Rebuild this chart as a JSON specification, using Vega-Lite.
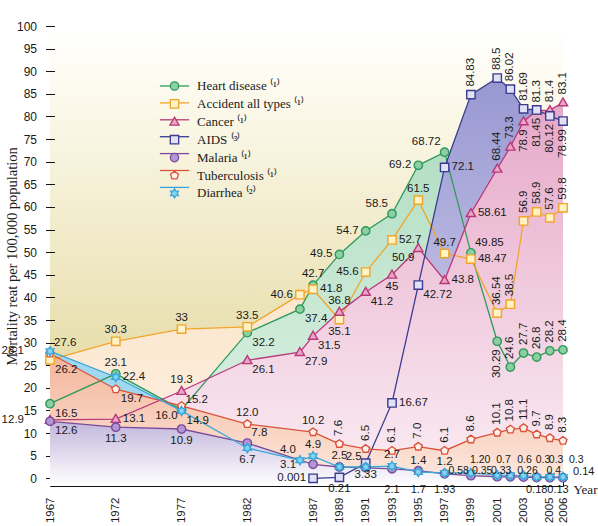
{
 "$schema": "https://vega.github.io/schema/vega-lite/v6.json",
 "width": 513, "height": 460, "autosize": "none",
 "padding": {"left": 50, "top": 26, "right": 35, "bottom": 40},
 "background": "white",
 "config": {
  "view": {"stroke": null, "fill": {"gradient": "linear", "x1": 0, "y1": 0, "x2": 0, "y2": 1, "stops": [{"offset": 0, "color": "#ffffff"}, {"offset": 0.12, "color": "#fdfbf0"}, {"offset": 0.7, "color": "#e8dfae"}, {"offset": 1, "color": "#e3d99c"}]}},
  "font": "Liberation Sans"
 },
 "datasets": {
  "series": [
   {"s":"Heart disease","year":1967,"v":16.5},{"s":"Heart disease","year":1972,"v":23.1},{"s":"Heart disease","year":1977,"v":15.2},{"s":"Heart disease","year":1982,"v":32.2},{"s":"Heart disease","year":1986,"v":37.4},{"s":"Heart disease","year":1987,"v":42.7},{"s":"Heart disease","year":1989,"v":49.5},{"s":"Heart disease","year":1991,"v":54.7},{"s":"Heart disease","year":1993,"v":58.5},{"s":"Heart disease","year":1995,"v":69.2},{"s":"Heart disease","year":1997,"v":72.1},{"s":"Heart disease","year":1999,"v":49.85},{"s":"Heart disease","year":2001,"v":30.29},{"s":"Heart disease","year":2002,"v":24.6},{"s":"Heart disease","year":2003,"v":27.7},{"s":"Heart disease","year":2004,"v":26.8},{"s":"Heart disease","year":2005,"v":28.2},{"s":"Heart disease","year":2006,"v":28.4},
   {"s":"Accident all types","year":1967,"v":26.2},{"s":"Accident all types","year":1972,"v":30.3},{"s":"Accident all types","year":1977,"v":33},{"s":"Accident all types","year":1982,"v":33.5},{"s":"Accident all types","year":1986,"v":40.6},{"s":"Accident all types","year":1987,"v":41.8},{"s":"Accident all types","year":1989,"v":35.1},{"s":"Accident all types","year":1991,"v":45.6},{"s":"Accident all types","year":1993,"v":52.7},{"s":"Accident all types","year":1995,"v":61.5},{"s":"Accident all types","year":1997,"v":49.7},{"s":"Accident all types","year":1999,"v":48.47},{"s":"Accident all types","year":2001,"v":36.54},{"s":"Accident all types","year":2002,"v":38.5},{"s":"Accident all types","year":2003,"v":56.9},{"s":"Accident all types","year":2004,"v":58.9},{"s":"Accident all types","year":2005,"v":57.6},{"s":"Accident all types","year":2006,"v":59.8},
   {"s":"Cancer","year":1967,"v":12.9},{"s":"Cancer","year":1972,"v":13.1},{"s":"Cancer","year":1977,"v":19.3},{"s":"Cancer","year":1982,"v":26.1},{"s":"Cancer","year":1986,"v":27.9},{"s":"Cancer","year":1987,"v":31.5},{"s":"Cancer","year":1989,"v":36.8},{"s":"Cancer","year":1991,"v":41.2},{"s":"Cancer","year":1993,"v":45},{"s":"Cancer","year":1995,"v":50.9},{"s":"Cancer","year":1997,"v":43.8},{"s":"Cancer","year":1999,"v":58.61},{"s":"Cancer","year":2001,"v":68.44},{"s":"Cancer","year":2002,"v":73.3},{"s":"Cancer","year":2003,"v":78.9},{"s":"Cancer","year":2004,"v":81.3},{"s":"Cancer","year":2005,"v":81.4},{"s":"Cancer","year":2006,"v":83.1},
   {"s":"AIDS","year":1987,"v":0.001},{"s":"AIDS","year":1989,"v":0.21},{"s":"AIDS","year":1991,"v":3.33},{"s":"AIDS","year":1993,"v":16.67},{"s":"AIDS","year":1995,"v":42.72},{"s":"AIDS","year":1997,"v":68.72},{"s":"AIDS","year":1999,"v":84.83},{"s":"AIDS","year":2001,"v":88.5},{"s":"AIDS","year":2002,"v":86.02},{"s":"AIDS","year":2003,"v":81.69},{"s":"AIDS","year":2004,"v":81.45},{"s":"AIDS","year":2005,"v":80.12},{"s":"AIDS","year":2006,"v":78.99},
   {"s":"Malaria","year":1967,"v":12.6},{"s":"Malaria","year":1972,"v":11.3},{"s":"Malaria","year":1977,"v":10.9},{"s":"Malaria","year":1982,"v":7.8},{"s":"Malaria","year":1987,"v":3.1},{"s":"Malaria","year":1989,"v":2.5},{"s":"Malaria","year":1991,"v":2.3},{"s":"Malaria","year":1993,"v":2.1},{"s":"Malaria","year":1995,"v":1.7},{"s":"Malaria","year":1997,"v":1.0},{"s":"Malaria","year":1999,"v":0.58},{"s":"Malaria","year":2001,"v":0.35},{"s":"Malaria","year":2002,"v":0.33},{"s":"Malaria","year":2003,"v":0.26},{"s":"Malaria","year":2004,"v":0.18},{"s":"Malaria","year":2005,"v":0.13},{"s":"Malaria","year":2006,"v":0.14},
   {"s":"Tuberculosis","year":1967,"v":27.6},{"s":"Tuberculosis","year":1972,"v":19.7},{"s":"Tuberculosis","year":1977,"v":16.0},{"s":"Tuberculosis","year":1982,"v":12.0},{"s":"Tuberculosis","year":1987,"v":10.2},{"s":"Tuberculosis","year":1989,"v":7.6},{"s":"Tuberculosis","year":1991,"v":6.5},{"s":"Tuberculosis","year":1993,"v":6.1},{"s":"Tuberculosis","year":1995,"v":7.0},{"s":"Tuberculosis","year":1997,"v":6.1},{"s":"Tuberculosis","year":1999,"v":8.6},{"s":"Tuberculosis","year":2001,"v":10.1},{"s":"Tuberculosis","year":2002,"v":10.8},{"s":"Tuberculosis","year":2003,"v":11.1},{"s":"Tuberculosis","year":2004,"v":9.7},{"s":"Tuberculosis","year":2005,"v":8.9},{"s":"Tuberculosis","year":2006,"v":8.3},
   {"s":"Diarrhea","year":1967,"v":28.1},{"s":"Diarrhea","year":1972,"v":22.4},{"s":"Diarrhea","year":1977,"v":14.9},{"s":"Diarrhea","year":1982,"v":6.7},{"s":"Diarrhea","year":1986,"v":4.0},{"s":"Diarrhea","year":1987,"v":4.9},{"s":"Diarrhea","year":1989,"v":2.5},{"s":"Diarrhea","year":1991,"v":2.5},{"s":"Diarrhea","year":1993,"v":2.7},{"s":"Diarrhea","year":1995,"v":1.4},{"s":"Diarrhea","year":1997,"v":1.2},{"s":"Diarrhea","year":1999,"v":1.2},{"s":"Diarrhea","year":2001,"v":0.7},{"s":"Diarrhea","year":2002,"v":0.65},{"s":"Diarrhea","year":2003,"v":0.6},{"s":"Diarrhea","year":2004,"v":0.3},{"s":"Diarrhea","year":2005,"v":0.3},{"s":"Diarrhea","year":2006,"v":0.3}
  ],
  "labA": [
   {"year":1972,"v":30.3,"t":"30.3"},{"year":1977,"v":33,"t":"33"},{"year":1982,"v":33.5,"t":"33.5"},{"year":1995,"v":61.5,"t":"61.5"},{"year":1997,"v":49.7,"t":"49.7"},
   {"year":1972,"v":23.1,"t":"23.1"},{"year":1987,"v":42.7,"t":"42.7"},
   {"year":1977,"v":19.3,"t":"19.3"},{"year":1989,"v":36.8,"t":"36.8"},
   {"year":1982,"v":12.0,"t":"12.0"},{"year":1987,"v":10.2,"t":"10.2"},
   {"year":1987,"v":4.9,"t":"4.9"},{"year":1989,"v":2.5,"t":"2.5"},{"year":1993,"v":2.7,"t":"2.7"},{"year":1995,"v":1.4,"t":"1.4"},{"year":1997,"v":1.2,"t":"1.2"}
  ],
  "labB": [
   {"year":1989,"v":35.1,"t":"35.1"},{"year":1972,"v":11.3,"t":"11.3"},{"year":1977,"v":10.9,"t":"10.9"},{"year":1993,"v":45,"t":"45"},{"year":1982,"v":6.7,"t":"6.7"},{"year":1989,"v":0.21,"t":"0.21"},{"year":1991,"v":3.33,"t":"3.33"}
  ],
  "rowBottom": [
   {"year":1993,"v":2.1,"t":"2.1"},{"year":1995,"v":1.7,"t":"1.7"},{"year":1997,"v":1.93,"t":"1.93"},{"year":2004,"v":0.18,"t":"0.18"}
  ],
  "rowBottomEnd": [
   {"year":2006,"v":0.13,"t":"0.13"}
  ],
  "rowTop": [
   {"year":1999,"v":1.2,"t":"1.20"},{"year":2001,"v":0.7,"t":"0.7"},{"year":2004,"v":0.3,"t":"0.3"},{"year":2005,"v":0.3,"t":"0.3"}
  ],
  "rowTopC": [
   {"year":2003,"v":0.6,"t":"0.6"}
  ],
  "rowTopRight": [
   {"year":2006,"v":0.3,"t":"0.3"}
  ],
  "rowMidLeft": [
   {"year":1999,"v":0.58,"t":"0.58"}
  ],
  "rowMidRight": [
   {"year":1999,"v":0.35,"t":"0.35"}
  ],
  "rowMid": [
   {"year":2001,"v":0.33,"t":"0.33"},{"year":2003,"v":0.26,"t":"0.26"},{"year":2005,"v":0.4,"t":"0.4"}
  ],
  "rowMidFar": [
   {"year":2006,"v":0.14,"t":"0.14"}
  ],
  "labL": [
   {"year":1989,"v":49.5,"t":"49.5"},{"year":1991,"v":54.7,"t":"54.7"},{"year":1995,"v":69.2,"t":"69.2"},{"year":1986,"v":40.6,"t":"40.6"},{"year":1991,"v":45.6,"t":"45.6"},{"year":1987,"v":0.001,"t":"0.001"}
  ],
  "labLfar": [
   {"year":1987,"v":3.1,"t":"3.1"}
  ],
  "labLL": [
   {"year":1967,"v":12.9,"t":"12.9"},{"year":1967,"v":28.1,"t":"28.1"}
  ],
  "labR": [
   {"year":1987,"v":41.8,"t":"41.8"},{"year":1993,"v":52.7,"t":"52.7"},{"year":1999,"v":48.47,"t":"48.47"},{"year":1972,"v":13.1,"t":"13.1"},{"year":1997,"v":43.8,"t":"43.8"},{"year":1999,"v":58.61,"t":"58.61"},{"year":1993,"v":16.67,"t":"16.67"},{"year":1997,"v":68.72,"t":"72.1"},{"year":1972,"v":22.4,"t":"22.4"}
  ],
  "labBR": [
   {"year":1967,"v":16.5,"t":"16.5"},{"year":1982,"v":32.2,"t":"32.2"},{"year":1986,"v":37.4,"t":"37.4"},{"year":1967,"v":26.2,"t":"26.2"},{"year":1982,"v":26.1,"t":"26.1"},{"year":1986,"v":27.9,"t":"27.9"},{"year":1987,"v":31.5,"t":"31.5"},{"year":1991,"v":41.2,"t":"41.2"},{"year":1995,"v":42.72,"t":"42.72"},{"year":1967,"v":12.6,"t":"12.6"},{"year":1972,"v":19.7,"t":"19.7"},{"year":1977,"v":14.9,"t":"14.9"}
  ],
  "labAR": [
   {"year":1977,"v":15.2,"t":"15.2"},{"year":1999,"v":49.85,"t":"49.85"},{"year":1982,"v":7.8,"t":"7.8"},{"year":1967,"v":27.6,"t":"27.6"}
  ],
  "labAL": [
   {"year":1993,"v":58.5,"t":"58.5"},{"year":1997,"v":72.1,"t":"68.72"},{"year":1986,"v":4.0,"t":"4.0"},{"year":1991,"v":2.5,"t":"2.5"}
  ],
  "labBL": [
   {"year":1995,"v":50.9,"t":"50.9"},{"year":1977,"v":16.0,"t":"16.0"}
  ],
  "labVA": [
   {"year":2002,"v":24.6,"t":"24.6"},{"year":2003,"v":27.7,"t":"27.7"},{"year":2004,"v":26.8,"t":"26.8"},{"year":2005,"v":28.2,"t":"28.2"},{"year":2006,"v":28.4,"t":"28.4"},
   {"year":2001,"v":36.54,"t":"36.54"},{"year":2002,"v":38.5,"t":"38.5"},{"year":2003,"v":56.9,"t":"56.9"},{"year":2004,"v":58.9,"t":"58.9"},{"year":2005,"v":57.6,"t":"57.6"},{"year":2006,"v":59.8,"t":"59.8"},
   {"year":2001,"v":68.44,"t":"68.44"},{"year":2002,"v":73.3,"t":"73.3"},{"year":2004,"v":81.3,"t":"81.3"},{"year":2005,"v":81.4,"t":"81.4"},{"year":2006,"v":83.1,"t":"83.1"},
   {"year":1999,"v":84.83,"t":"84.83"},{"year":2001,"v":88.5,"t":"88.5"},{"year":2002,"v":86.02,"t":"86.02"},{"year":2003,"v":81.69,"t":"81.69"},
   {"year":1989,"v":7.6,"t":"7.6"},{"year":1991,"v":6.5,"t":"6.5"},{"year":1993,"v":6.1,"t":"6.1"},{"year":1995,"v":7.0,"t":"7.0"},{"year":1997,"v":6.1,"t":"6.1"},{"year":1999,"v":8.6,"t":"8.6"},{"year":2001,"v":10.1,"t":"10.1"},{"year":2002,"v":10.8,"t":"10.8"},{"year":2003,"v":11.1,"t":"11.1"},{"year":2004,"v":9.7,"t":"9.7"},{"year":2005,"v":8.9,"t":"8.9"},{"year":2006,"v":8.3,"t":"8.3"}
  ],
  "labVB": [
   {"year":2001,"v":30.29,"t":"30.29"},{"year":2003,"v":78.9,"t":"78.9"},{"year":2004,"v":81.45,"t":"81.45"},{"year":2005,"v":80.12,"t":"80.12"},{"year":2006,"v":78.99,"t":"78.99"}
  ]
 },
 "encoding": {
  "x": {"field": "year", "type": "quantitative", "scale": {"domain": [1967, 2006], "nice": false, "zero": false},
   "axis": {"values": [1967,1968,1969,1970,1971,1972,1973,1974,1975,1976,1977,1978,1979,1980,1981,1982,1983,1984,1985,1986,1987,1988,1989,1990,1991,1992,1993,1994,1995,1996,1997,1998,1999,2000,2001,2002,2003,2004,2005,2006],
    "labelExpr": "((datum.value <= 1987 && (datum.value - 1967) % 5 === 0) || (datum.value > 1987 && datum.value % 2 === 1) || datum.value === 2006) ? datum.value + '' : ''",
    "labelAngle": -90, "labelAlign": "right", "labelBaseline": "middle", "labelPadding": 18, "labelOverlap": false, "labelFlush": false, "labelBound": false,
    "labelFont": "Liberation Sans", "labelFontSize": 11.5, "labelColor": "#1a1a1a",
    "tickSize": -7, "tickColor": "#111", "tickWidth": 1, "domainColor": "#111", "domainWidth": 1.2, "grid": false,
    "title": "Year", "titleFont": "Liberation Serif", "titleFontSize": 13, "titleFontWeight": "normal", "titleColor": "#1a1a1a",
    "titleX": 523, "titleY": 3, "titleAlign": "left", "titleBaseline": "middle", "titleAngle": 0}},
  "y": {"field": "v", "type": "quantitative", "scale": {"domain": [-1.7, 100], "nice": false, "zero": false},
   "axis": {"values": [0,5,10,15,20,25,30,35,40,45,50,55,60,65,70,75,80,85,90,95,100],
    "offset": -4.5, "tickSize": 9, "tickColor": "#111", "domain": false, "grid": false,
    "labelPadding": 9, "labelFont": "Liberation Sans", "labelFontSize": 12, "labelColor": "#1a1a1a",
    "title": "Mortality reat per 100,000 population", "titleFont": "Liberation Serif", "titleFontSize": 14.5, "titleFontWeight": "normal", "titleColor": "#1a1a1a",
    "titleX": -42, "titleY": 230, "titleAngle": -90, "titleAlign": "center", "titleBaseline": "middle"}}
 },
 "layer": [
  {"data": {"name": "series"}, "transform": [{"filter": "datum.s === 'Accident all types'"}],
   "mark": {"type": "area", "color": {"gradient": "linear", "x1": 0, "y1": 0, "x2": 0, "y2": 1, "stops": [{"offset": 0, "color": "#fbe0c0"}, {"offset": 1, "color": "#fdf2e6"}]}},
   "encoding": {"y2": {"datum": -1.7}}},
  {"data": {"name": "series"}, "transform": [{"filter": "datum.s === 'Heart disease'"}],
   "mark": {"type": "area", "color": {"gradient": "linear", "x1": 0, "y1": 0, "x2": 0, "y2": 1, "stops": [{"offset": 0, "color": "#b4dfc4"}, {"offset": 1, "color": "#e2f3e8"}]}},
   "encoding": {"y2": {"datum": -1.7}}},
  {"data": {"name": "series"}, "transform": [{"filter": "datum.s === 'AIDS'"}],
   "mark": {"type": "area", "color": {"gradient": "linear", "x1": 0, "y1": 0, "x2": 0, "y2": 1, "stops": [{"offset": 0, "color": "#9898d2"}, {"offset": 1, "color": "#dcdaf0"}]}},
   "encoding": {"y2": {"datum": -1.7}}},
  {"data": {"name": "series"}, "transform": [{"filter": "datum.s === 'Cancer'"}],
   "mark": {"type": "area", "color": {"gradient": "linear", "x1": 0, "y1": 0, "x2": 0, "y2": 1, "stops": [{"offset": 0, "color": "#e6a8c8"}, {"offset": 1, "color": "#fbeef4"}]}},
   "encoding": {"y2": {"datum": -1.7}}},
  {"data": {"name": "series"}, "transform": [{"filter": "datum.s === 'Diarrhea'"}],
   "mark": {"type": "area", "color": "#9fd8ef"},
   "encoding": {"y2": {"datum": -1.7}}},
  {"data": {"name": "series"}, "transform": [{"filter": "datum.s === 'Tuberculosis'"}],
   "mark": {"type": "area", "color": {"gradient": "linear", "x1": 0, "y1": 0, "x2": 0, "y2": 1, "stops": [{"offset": 0, "color": "#f4b498"}, {"offset": 1, "color": "#fdebe2"}]}},
   "encoding": {"y2": {"datum": -1.7}}},
  {"data": {"name": "series"}, "transform": [{"filter": "datum.s === 'Malaria'"}],
   "mark": {"type": "area", "color": {"gradient": "linear", "x1": 0, "y1": 0, "x2": 0, "y2": 1, "stops": [{"offset": 0, "color": "#c2b6dc"}, {"offset": 1, "color": "#ffffff"}]}},
   "encoding": {"y2": {"datum": -1.7}}},
  {"data": {"values": [{}]}, "mark": {"type": "rule", "color": "#111", "strokeWidth": 1.2},
   "encoding": {"x": {"datum": 1967}, "y": {"datum": -1.7}, "y2": {"datum": 100}}},
  {"data": {"name": "series"}, "mark": {"type": "line", "strokeWidth": 1.3},
   "encoding": {"detail": {"field": "s"},
    "color": {"field": "s", "type": "nominal", "sort": ["Heart disease","Accident all types","Cancer","AIDS","Malaria","Tuberculosis","Diarrhea"],
     "scale": {"range": ["#2f9a5c","#f0a52a","#b8387a","#3b3b8f","#7b4b9b","#d9533a","#3aa6d8"]},
     "legend": {"orient": "none", "legendX": 118, "legendY": 53.5, "title": null, "padding": 0, "symbolType": "M-3.5,0H3.5", "symbolSize": 70, "symbolStrokeWidth": 1.3, "rowPadding": 2.9,
      "labelFont": "Liberation Serif", "labelFontSize": 13, "labelOpacity": 0, "labelOffset": 16, "labelLimit": 300,
      "labelExpr": "' '"}}}},
  {"data": {"name": "series"}, "mark": {"type": "point", "filled": true, "size": 70, "strokeWidth": 1.4, "opacity": 1},
   "encoding": {
    "stroke": {"field": "s", "type": "nominal", "scale": {"domain": ["Heart disease","Accident all types","Cancer","AIDS","Malaria","Tuberculosis","Diarrhea"], "range": ["#2f9a5c","#f0a52a","#b8387a","#3b3b8f","#7b4b9b","#d9533a","#3aa6d8"]}},
    "fill": {"field": "s", "type": "nominal", "scale": {"domain": ["Heart disease","Accident all types","Cancer","AIDS","Malaria","Tuberculosis","Diarrhea"], "range": ["#8ccfa2","#fff2c4","#eaa6c6","#e2e2f6","#b596d4","#fff0ea","#86d4f2"]}},
    "shape": {"field": "s", "type": "nominal",
     "scale": {"domain": ["Heart disease","Accident all types","Cancer","AIDS","Malaria","Tuberculosis","Diarrhea"], "range": ["circle","square","M0,-1.1L1.1,0.8H-1.1Z","square","circle","M0,-1L0.95,-0.31L0.59,0.81H-0.59L-0.95,-0.31Z","M0,-1.1L0.32,-0.55L0.95,-0.55L0.63,0L0.95,0.55L0.32,0.55L0,1.1L-0.32,0.55L-0.95,0.55L-0.63,0L-0.95,-0.55L-0.32,-0.55Z"]},
     "legend": {"orient": "none", "legendX": 118, "legendY": 53.5, "title": null, "padding": 0, "symbolSize": 70, "symbolStrokeWidth": 1.3, "rowPadding": 2.9,
      "labelFont": "Liberation Serif", "labelFontSize": 13, "labelColor": "#1a1a1a", "labelOffset": 16, "labelLimit": 300,
      "labelExpr": "datum.label + (datum.label === 'AIDS' ? ' ⁽³⁾' : datum.label === 'Diarrhea' ? ' ⁽²⁾' : ' ⁽¹⁾')"}}}},
  {"data": {"name": "labA"}, "mark": {"type": "text", "dy": -11, "align": "center", "baseline": "middle", "fontSize": 11.5, "color": "#1a1a1a"}, "encoding": {"text": {"field": "t"}}},
  {"data": {"name": "labB"}, "mark": {"type": "text", "dy": 12, "align": "center", "baseline": "middle", "fontSize": 11.5, "color": "#1a1a1a"}, "encoding": {"text": {"field": "t"}}},
  {"data": {"name": "rowBottom"}, "mark": {"type": "text", "dy": 12, "align": "center", "baseline": "middle", "fontSize": 11, "color": "#1a1a1a"}, "encoding": {"y": {"datum": 0.01}, "text": {"field": "t"}}},
  {"data": {"name": "rowBottomEnd"}, "mark": {"type": "text", "dx": -5, "dy": 12, "align": "center", "baseline": "middle", "fontSize": 11, "color": "#1a1a1a"}, "encoding": {"y": {"datum": 0.01}, "text": {"field": "t"}}},
  {"data": {"name": "rowTop"}, "mark": {"type": "text", "dx": -1, "dy": -18, "align": "left", "baseline": "middle", "fontSize": 10.5, "color": "#1a1a1a"}, "encoding": {"y": {"datum": 0.01}, "text": {"field": "t"}}},
  {"data": {"name": "rowTopC"}, "mark": {"type": "text", "dx": 1, "dy": -18, "align": "center", "baseline": "middle", "fontSize": 10.5, "color": "#1a1a1a"}, "encoding": {"y": {"datum": 0.01}, "text": {"field": "t"}}},
  {"data": {"name": "rowTopRight"}, "mark": {"type": "text", "dx": 6, "dy": -18, "align": "left", "baseline": "middle", "fontSize": 10.5, "color": "#1a1a1a"}, "encoding": {"y": {"datum": 0.01}, "text": {"field": "t"}}},
  {"data": {"name": "rowMidLeft"}, "mark": {"type": "text", "dx": -2, "dy": -7, "align": "right", "baseline": "middle", "fontSize": 10.5, "color": "#1a1a1a"}, "encoding": {"y": {"datum": 0.01}, "text": {"field": "t"}}},
  {"data": {"name": "rowMidRight"}, "mark": {"type": "text", "dx": 1, "dy": -7, "align": "left", "baseline": "middle", "fontSize": 10.5, "color": "#1a1a1a"}, "encoding": {"y": {"datum": 0.01}, "text": {"field": "t"}}},
  {"data": {"name": "rowMid"}, "mark": {"type": "text", "dx": 4, "dy": -7, "align": "center", "baseline": "middle", "fontSize": 10.5, "color": "#1a1a1a"}, "encoding": {"y": {"datum": 0.01}, "text": {"field": "t"}}},
  {"data": {"name": "rowMidFar"}, "mark": {"type": "text", "dx": 10, "dy": -6, "align": "left", "baseline": "middle", "fontSize": 11, "color": "#1a1a1a"}, "encoding": {"y": {"datum": 0.01}, "text": {"field": "t"}}},
  {"data": {"name": "labL"}, "mark": {"type": "text", "dx": -7, "align": "right", "baseline": "middle", "fontSize": 11.5, "color": "#1a1a1a"}, "encoding": {"text": {"field": "t"}}},
  {"data": {"name": "labLfar"}, "mark": {"type": "text", "dx": -17, "dy": 1, "align": "right", "baseline": "middle", "fontSize": 11.5, "color": "#1a1a1a"}, "encoding": {"text": {"field": "t"}}},
  {"data": {"name": "labLL"}, "mark": {"type": "text", "dx": -26, "align": "right", "baseline": "middle", "fontSize": 11.5, "color": "#1a1a1a"}, "encoding": {"text": {"field": "t"}}},
  {"data": {"name": "labR"}, "mark": {"type": "text", "dx": 7, "align": "left", "baseline": "middle", "fontSize": 11.5, "color": "#1a1a1a"}, "encoding": {"text": {"field": "t"}}},
  {"data": {"name": "labBR"}, "mark": {"type": "text", "dx": 5, "dy": 10, "align": "left", "baseline": "middle", "fontSize": 11.5, "color": "#1a1a1a"}, "encoding": {"text": {"field": "t"}}},
  {"data": {"name": "labAR"}, "mark": {"type": "text", "dx": 4, "dy": -10, "align": "left", "baseline": "middle", "fontSize": 11.5, "color": "#1a1a1a"}, "encoding": {"text": {"field": "t"}}},
  {"data": {"name": "labAL"}, "mark": {"type": "text", "dx": -4, "dy": -10, "align": "right", "baseline": "middle", "fontSize": 11.5, "color": "#1a1a1a"}, "encoding": {"text": {"field": "t"}}},
  {"data": {"name": "labBL"}, "mark": {"type": "text", "dx": -4, "dy": 10, "align": "right", "baseline": "middle", "fontSize": 11.5, "color": "#1a1a1a"}, "encoding": {"text": {"field": "t"}}},
  {"data": {"name": "labVA"}, "mark": {"type": "text", "angle": 270, "dx": 8, "align": "left", "baseline": "middle", "fontSize": 11.5, "color": "#1a1a1a"}, "encoding": {"text": {"field": "t"}}},
  {"data": {"name": "labVB"}, "mark": {"type": "text", "angle": 270, "dx": -8, "align": "right", "baseline": "middle", "fontSize": 11.5, "color": "#1a1a1a"}, "encoding": {"text": {"field": "t"}}}
 ]
}
